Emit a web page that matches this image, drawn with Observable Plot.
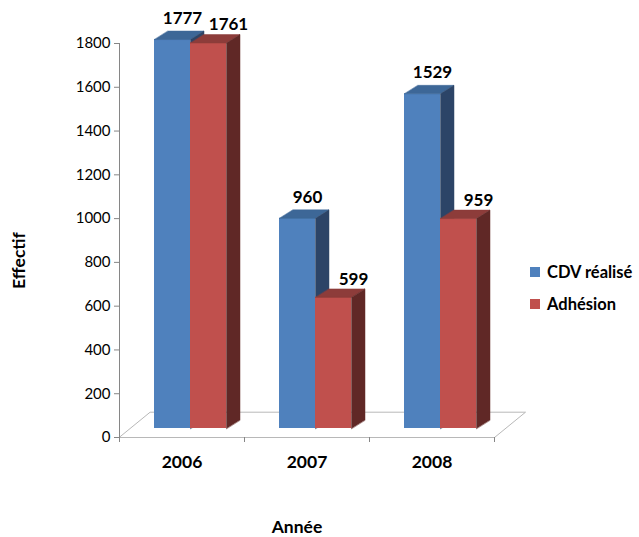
<!DOCTYPE html>
<html>
<head>
<meta charset="utf-8">
<script src="https://cdn.jsdelivr.net/npm/d3@7"></script>
<script src="https://cdn.jsdelivr.net/npm/@observablehq/plot@0.6"></script>
<style>
  html, body { margin: 0; padding: 0; background: #ffffff; }
  #chart { position: relative; width: 639px; height: 537px; font-family: Lato, "Open Sans", sans-serif; }
  #legend { position: absolute; left: 530px; top: 262px; font: bold 16.5px Lato, sans-serif; color: #000; }
  #legend .item { display: flex; align-items: center; height: 20px; margin-bottom: 12px; }
  #legend .sw { width: 10px; height: 10px; margin-right: 7px; }
</style>
</head>
<body>
<div id="chart"></div>
<script>
// Effectifs par année
const years = ["2006", "2007", "2008"];
const seriesNames = ["CDV réalisé", "Adhésion"];
const cdvRealise = [1777, 960, 1529];
const adhesion = [1761, 599, 959];
const yTicks = [0, 200, 400, 600, 800, 1000, 1200, 1400, 1600, 1800];

// Face colours for each series: front, top, side
const faceColors = [
  { front: "#4f81bd", top: "#3d6797", side: "#2c4467" },
  { front: "#c0504d", top: "#8d3c3a", side: "#602826" }
];

// Layout
const W = 639, H = 537;
const mL = 119, mR = 145, mT = 43, mB = 100;
const yMax = 1800;
const kx = (W - mL - mR) / years.length;   // px per category
const ky = (H - mT - mB) / yMax;           // px per unit

// 3D depth of bars and floor, in px, converted to data units
const barDepth = { dx: 13.5 / kx, dy: 8.5 / ky };
const floorDepth = { dx: 31 / kx, dy: 25.3 / ky };
const barLift = -9;            // bars sit slightly behind the floor's front edge
const barStart = 0.28;         // offset of the first bar inside a category
const barWidth = 0.288;        // width of one bar, in categories

const valuesBySeries = [cdvRealise, adhesion];
const bars = [];
years.forEach((year, i) => {
  valuesBySeries.forEach((vals, s) => {
    const x0 = i + barStart + s * barWidth;
    bars.push({ year, s, value: vals[i], x0, x1: x0 + barWidth });
  });
});

const floor = [
  { x: 0, y: 0 },
  { x: years.length, y: 0 },
  { x: years.length + floorDepth.dx, y: floorDepth.dy },
  { x: floorDepth.dx, y: floorDepth.dy }
];

const marks = [];

// Floor
marks.push(Plot.line(floor, {
  x: "x", y: "y", curve: "linear-closed",
  fill: "#ffffff", stroke: "#b8b8b8", strokeWidth: 1
}));

// Bars, drawn left to right so each one hides the side of the previous
for (const b of bars) {
  const c = faceColors[b.s];
  const v = b.value;
  const top = [
    { x: b.x0, y: v }, { x: b.x1, y: v },
    { x: b.x1 + barDepth.dx, y: v + barDepth.dy }, { x: b.x0 + barDepth.dx, y: v + barDepth.dy }
  ];
  const side = [
    { x: b.x1, y: 0 }, { x: b.x1, y: v },
    { x: b.x1 + barDepth.dx, y: v + barDepth.dy }, { x: b.x1 + barDepth.dx, y: barDepth.dy }
  ];
  marks.push(Plot.rectY([b], {
    x1: "x0", x2: "x1", y1: 0, y2: "value", fill: c.front, dy: barLift
  }));
  marks.push(Plot.line(top, {
    x: "x", y: "y", curve: "linear-closed", fill: c.top, stroke: c.top, strokeWidth: 0.5, dy: barLift
  }));
  marks.push(Plot.line(side, {
    x: "x", y: "y", curve: "linear-closed", fill: c.side, stroke: c.side, strokeWidth: 0.5, dy: barLift
  }));
}

// Value labels
const labelOffsets = [{ dx: 10, dy: -21 }, { dx: 20, dy: -18 }];
[0, 1].forEach(s => {
  marks.push(Plot.text(bars.filter(b => b.s === s), {
    x: b => (b.x0 + b.x1) / 2, y: "value", text: b => String(b.value),
    dx: labelOffsets[s].dx, dy: barLift + labelOffsets[s].dy,
    fontSize: 17, fontWeight: "bold", fill: "#000"
  }));
});

// Axes
marks.push(Plot.axisY({
  ticks: yTicks, tickSize: 5, tickPadding: 4, tickFormat: d3.format("d"),
  stroke: "#868686", fill: "#000", fontSize: 15
}));
marks.push(Plot.ruleX([0], { y1: 0, y2: yMax, stroke: "#868686" }));
marks.push(Plot.axisX({
  ticks: d3.range(years.length + 1), tickSize: 5, tickFormat: () => "",
  stroke: "#868686"
}));
marks.push(Plot.text(years, {
  x: (d, i) => i + 0.5, frameAnchor: "bottom", lineAnchor: "middle", dy: 25,
  fontSize: 17.5, fontWeight: "bold", fill: "#000"
}));

// Axis titles
marks.push(Plot.text(["Année"], {
  frameAnchor: "bottom", lineAnchor: "middle", textAnchor: "middle", dx: -10, dy: 90,
  fontSize: 17.5, fontWeight: "bold", fill: "#000"
}));
marks.push(Plot.text(["Effectif"], {
  frameAnchor: "left", lineAnchor: "middle", textAnchor: "middle", rotate: -90, dx: -100, dy: 20,
  fontSize: 17.5, fontWeight: "bold", fill: "#000"
}));

const chart = Plot.plot({
  width: W, height: H,
  marginLeft: mL, marginRight: mR, marginTop: mT, marginBottom: mB,
  x: { type: "linear", domain: [0, years.length], axis: null },
  y: { type: "linear", domain: [0, yMax], axis: null },
  style: { fontFamily: "Lato, 'Open Sans', sans-serif", background: "#ffffff", overflow: "visible" },
  marks
});

const root = document.getElementById("chart");
root.appendChild(chart);

// Legend
const legend = document.createElement("div");
legend.id = "legend";
seriesNames.forEach((name, s) => {
  const item = document.createElement("div");
  item.className = "item";
  const sw = document.createElement("span");
  sw.className = "sw";
  sw.style.background = faceColors[s].front;
  const label = document.createElement("span");
  label.textContent = name;
  item.appendChild(sw);
  item.appendChild(label);
  legend.appendChild(item);
});
root.appendChild(legend);
</script>
</body>
</html>
